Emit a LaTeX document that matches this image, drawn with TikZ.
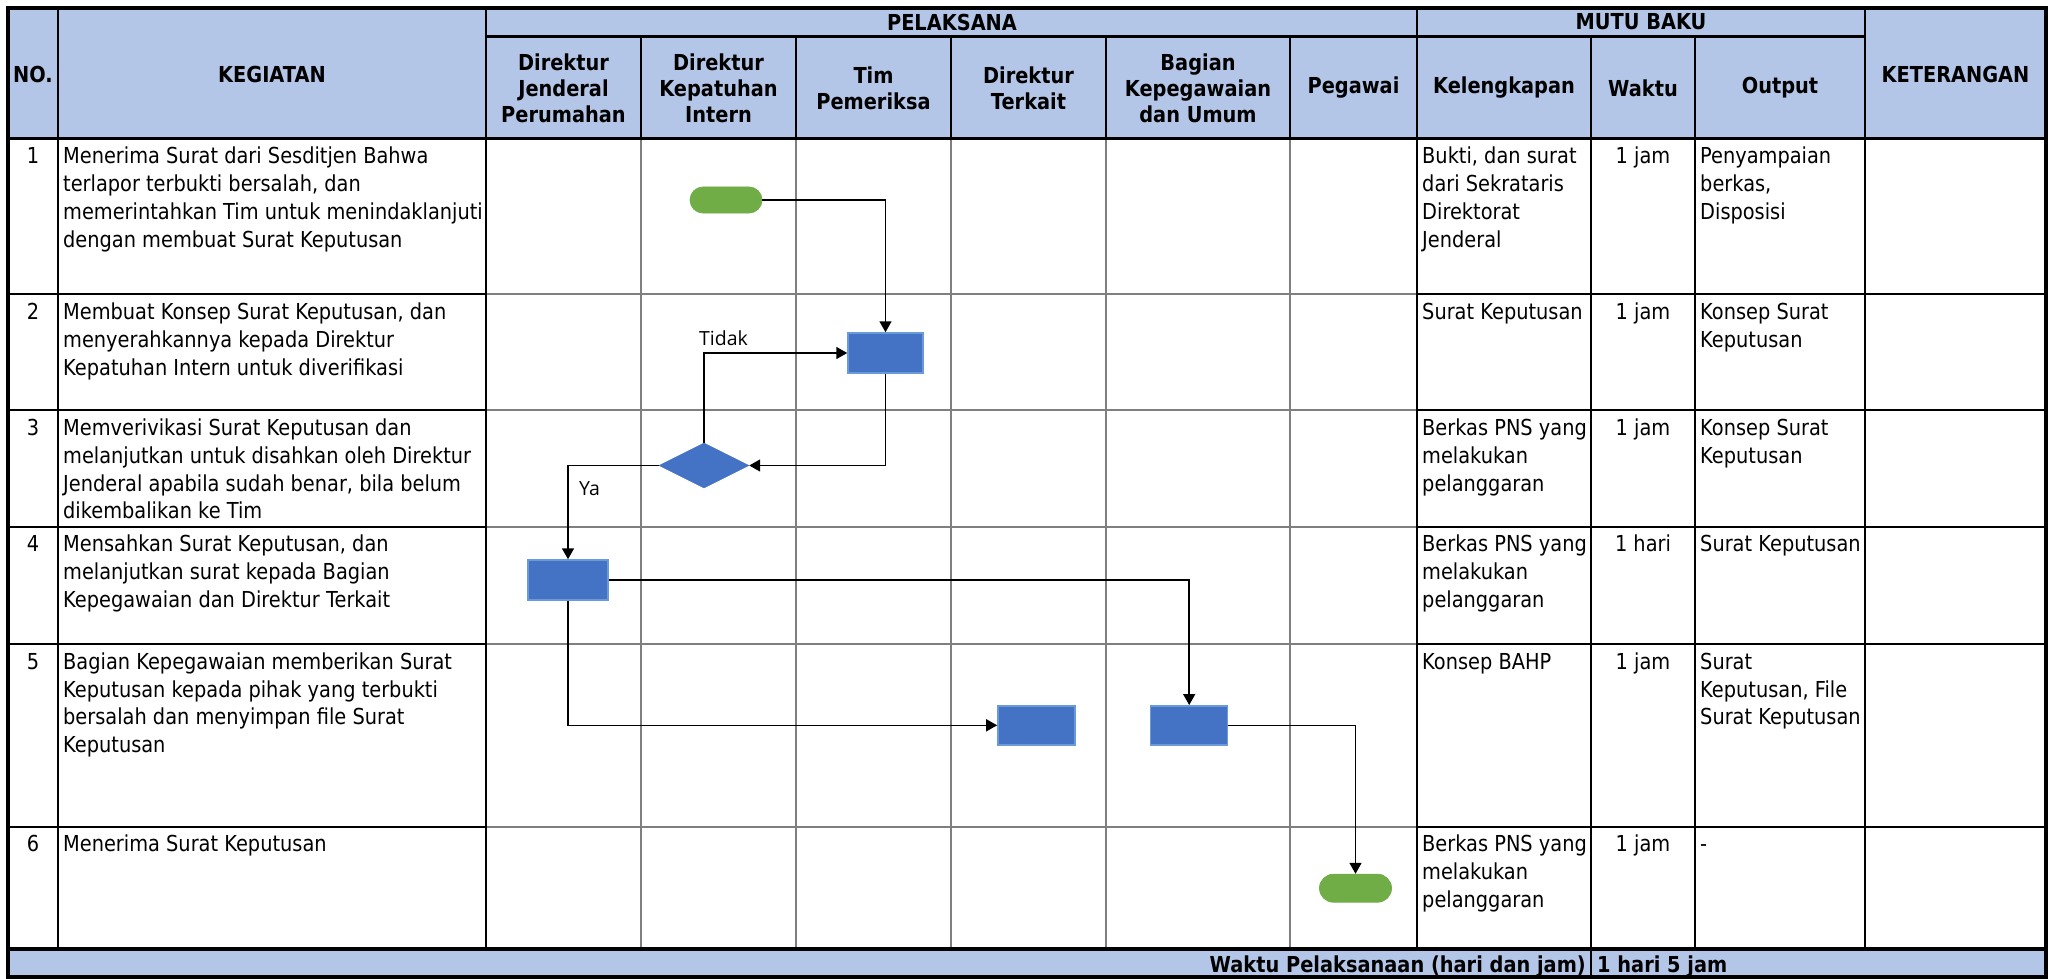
\documentclass[tikz,border=0pt]{standalone}
\usepackage{fontspec}
\setmainfont{DejaVu Sans}[FakeStretch=0.88]
\newfontfamily\lblfont{Open Sans}
\usetikzlibrary{arrows.meta,shapes.geometric}

\definecolor{hdrblue}{HTML}{B4C6E7}
\definecolor{procblue}{HTML}{4472C4}
\definecolor{procedge}{HTML}{6A9BD8}
\definecolor{termgreen}{HTML}{70AD47}
\definecolor{gridgray}{HTML}{7F7F7F}

\newcommand\bodyfont{\fontsize{22}{27.8}\selectfont}
\newcommand\headfont{\fontsize{22}{26}\selectfont\bfseries}
\newcommand\lblsize{\lblfont\fontsize{19.5}{22}\selectfont}
\newcommand\fst{\rule{0pt}{19.5pt}}

\begin{document}
\begin{tikzpicture}[x=1pt,y=-1pt,
  cell/.style={anchor=north west, inner sep=0pt, align=left, font=\bodyfont},
  midcell/.style={anchor=north, inner sep=0pt, align=center, font=\bodyfont},
  head/.style={inner sep=0pt, align=center, font=\headfont},
  blackline/.style={line width=2.2pt, black},
  grayline/.style={line width=2pt, gridgray},
  borderline/.style={line width=4pt, black},
  process/.style={rectangle, fill=procblue, draw=procedge, line width=1.5pt, inner sep=0pt},
  terminal/.style={rectangle, rounded corners=13pt, fill=termgreen, draw=termgreen,
    line width=0.8pt, inner sep=0pt, minimum width=72pt, minimum height=26pt},
  decision/.style={diamond, aspect=2, fill=procblue, draw=procblue, inner sep=0pt,
    minimum width=90pt, minimum height=45pt},
  flow/.style={line width=1.6pt, -{Triangle[length=11pt,width=12pt]}},
  lbl/.style={inner sep=0pt, font=\lblsize}]

\useasboundingbox (0,0) rectangle (2057,979);

% header and footer bands
\fill[hdrblue] (8,8) rectangle (2046,138.5);
\fill[hdrblue] (8,949) rectangle (2046,977);

% swimlane grid (gray)
\foreach \x in {641,796,951,1106,1290}
  \draw[grayline] (\x,138.5) -- (\x,949);
\foreach \y in {294.3,410.3,526.7,644,826.7}
  \draw[grayline] (486,\y) -- (1417,\y);

% table rules (black)
\foreach \y in {294.3,410.3,526.7,644,826.7} {
  \draw[blackline] (8,\y) -- (486,\y);
  \draw[blackline] (1417,\y) -- (2046,\y);
}
\foreach \x in {58,486,1417,1865}
  \draw[blackline] (\x,8) -- (\x,949);
\foreach \x in {1591,1695}
  \draw[blackline] (\x,36.5) -- (\x,949);
\foreach \x in {641,796,951,1106,1290}
  \draw[blackline] (\x,36.5) -- (\x,138.5);
\draw[blackline] (486,36.5) -- (1865,36.5);
\draw[blackline] (8,138.5) -- (2046,138.5);
\draw[blackline] (1591,949) -- (1591,977);
\draw[borderline] (8,949) -- (2046,949);
\draw[borderline] (8,8) rectangle (2046,977);

% header texts
\node[head] (hNo)  at (33,74)    {NO.};
\node[head] (hKeg) at (272,74)   {KEGIATAN};
\node[head] (hPel) at (952,22)   {PELAKSANA};
\node[head] (hMutu) at (1641,22) {MUTU BAKU};
\node[head] (hKet) at (1955.5,74) {KETERANGAN};
\node[head] (hDj)  at (563.5,88) {Direktur\\Jenderal\\Perumahan};
\node[head] (hDk)  at (718.5,88) {Direktur\\Kepatuhan\\Intern};
\node[head] (hTim) at (873.5,88) {Tim\\Pemeriksa};
\node[head] (hDt)  at (1028.5,88) {Direktur\\Terkait};
\node[head] (hBag) at (1198,88)  {Bagian\\Kepegawaian\\dan Umum};
\node[head] (hPeg) at (1353.5,88) {Pegawai};
\node[head] (hKel) at (1504,88)  {Kelengkapan};
\node[head] (hWak) at (1643,88)  {Waktu};
\node[head] (hOut) at (1780,88)  {Output};

% row 1
\node[midcell] (n1) at (33,144) {\fst 1};
\node[cell] (k1) at (63,144) {\fst Menerima Surat dari Sesditjen Bahwa\\terlapor terbukti bersalah, dan\\memerintahkan Tim untuk menindaklanjuti\\dengan membuat Surat Keputusan};
\node[cell] (l1) at (1422,144) {\fst Bukti, dan surat\\dari Sekrataris\\Direktorat\\Jenderal};
\node[midcell] (w1) at (1643,144) {\fst 1 jam};
\node[cell] (o1) at (1700,144) {\fst Penyampaian\\berkas,\\Disposisi};

% row 2
\node[midcell] (n2) at (33,299.8) {\fst 2};
\node[cell] (k2) at (63,299.8) {\fst Membuat Konsep Surat Keputusan, dan\\menyerahkannya kepada Direktur\\Kepatuhan Intern untuk diverifikasi};
\node[cell] (l2) at (1422,299.8) {\fst Surat Keputusan};
\node[midcell] (w2) at (1643,299.8) {\fst 1 jam};
\node[cell] (o2) at (1700,299.8) {\fst Konsep Surat\\Keputusan};

% row 3
\node[midcell] (n3) at (33,415.8) {\fst 3};
\node[cell] (k3) at (63,415.8) {\fst Memverivikasi Surat Keputusan dan\\melanjutkan untuk disahkan oleh Direktur\\Jenderal apabila sudah benar, bila belum\\dikembalikan ke Tim};
\node[cell] (l3) at (1422,415.8) {\fst Berkas PNS yang\\melakukan\\pelanggaran};
\node[midcell] (w3) at (1643,415.8) {\fst 1 jam};
\node[cell] (o3) at (1700,415.8) {\fst Konsep Surat\\Keputusan};

% row 4
\node[midcell] (n4) at (33,532.2) {\fst 4};
\node[cell] (k4) at (63,532.2) {\fst Mensahkan Surat Keputusan, dan\\melanjutkan surat kepada Bagian\\Kepegawaian dan Direktur Terkait};
\node[cell] (l4) at (1422,532.2) {\fst Berkas PNS yang\\melakukan\\pelanggaran};
\node[midcell] (w4) at (1643,532.2) {\fst 1 hari};
\node[cell] (o4) at (1700,532.2) {\fst Surat Keputusan};

% row 5
\node[midcell] (n5) at (33,649.5) {\fst 5};
\node[cell] (k5) at (63,649.5) {\fst Bagian Kepegawaian memberikan Surat\\Keputusan kepada pihak yang terbukti\\bersalah dan menyimpan file Surat\\Keputusan};
\node[cell] (l5) at (1422,649.5) {\fst Konsep BAHP};
\node[midcell] (w5) at (1643,649.5) {\fst 1 jam};
\node[cell] (o5) at (1700,649.5) {\fst Surat\\Keputusan, File\\Surat Keputusan};

% row 6
\node[midcell] (n6) at (33,832.2) {\fst 6};
\node[cell] (k6) at (63,832.2) {\fst Menerima Surat Keputusan};
\node[cell] (l6) at (1422,832.2) {\fst Berkas PNS yang\\melakukan\\pelanggaran};
\node[midcell] (w6) at (1643,832.2) {\fst 1 jam};
\node[cell] (o6) at (1700,832.2) {\fst -};

% footer
\node[head, anchor=base east] (fLbl) at (1586,972) {Waktu Pelaksanaan (hari dan jam)};
\node[head, anchor=base west] (fVal) at (1597,972) {1 hari 5 jam};

% flowchart symbols
\node[terminal] (start) at (726,200) {};
\node[process, minimum width=75pt, minimum height=40pt] (konsep) at (885.5,353) {};
\node[decision] (verif) at (704,465.5) {};
\node[process, minimum width=80pt, minimum height=40pt] (sah) at (568,580) {};
\node[process, minimum width=77pt, minimum height=39pt] (terkait) at (1036.4,725.3) {};
\node[process, minimum width=77pt, minimum height=39pt] (bagian) at (1189.2,725.3) {};
\node[terminal, minimum height=28pt, rounded corners=14pt] (finish) at (1355.5,888.2) {};

% connectors
\draw[flow] (start.east) -| (konsep.north);
\draw[flow] (konsep.south) |- (verif.east);
\draw[flow] (verif.north) |- (konsep.west);
\draw[flow] (verif.west) -| (sah.north);
\draw[flow] (sah.east) -| (bagian.north);
\draw[flow] (sah.south) |- (terkait.west);
\draw[flow] (bagian.east) -| (finish.north);

% connector labels
\node[lbl, anchor=base] (tidak) at (723.5,345) {Tidak};
\node[lbl, anchor=base west] (ya) at (579,495) {Ya};

\end{tikzpicture}
\end{document}
